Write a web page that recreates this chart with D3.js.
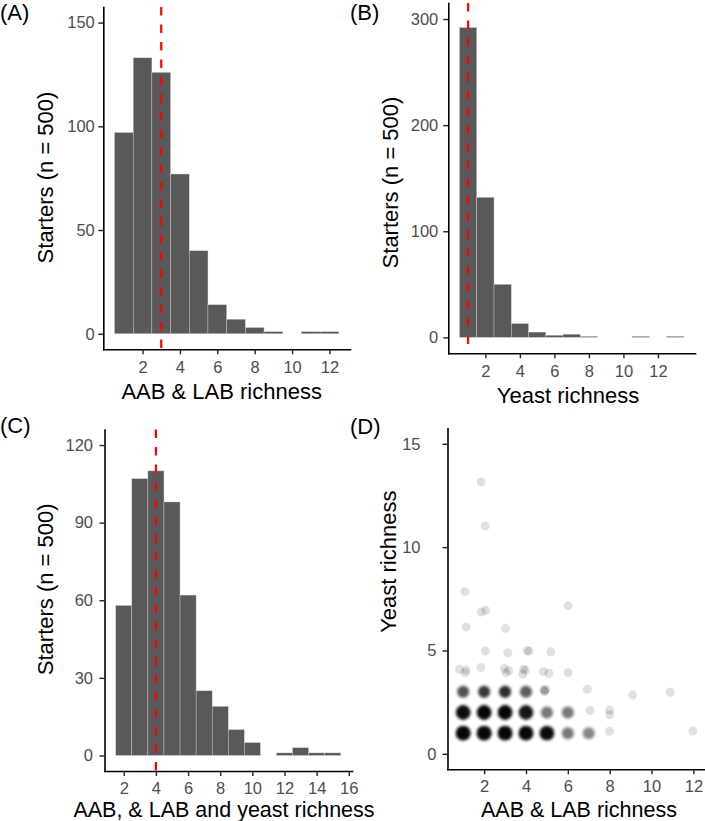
<!DOCTYPE html>
<html>
<head>
<meta charset="utf-8">
<script src="https://cdn.jsdelivr.net/npm/d3@7"></script>
<style>
  body { margin: 0; background: #fff; }
  svg text { font-family: "Liberation Sans", Arial, Helvetica, sans-serif; }
</style>
</head>
<body>
<div id="chart"></div>
<script>
// histogram counts (bin centres = richness values)
const aabBins = [1, 2, 3, 4, 5, 6, 7, 8, 9, 10, 11, 12];
const aabCounts = [97, 133, 126, 77, 40, 14, 7, 3, 1, 0, 1, 1];
const aabMedian = 3;

const yeastBins = [1, 2, 3, 4, 5, 6, 7, 8, 9, 10, 11, 12, 13];
const yeastCounts = [292, 132, 50, 13, 5, 2, 3, 1, 0, 0, 1, 0, 1];
const yeastMedian = 1;

const totalBins = [2, 3, 4, 5, 6, 7, 8, 9, 10, 11, 12, 13, 14, 15];
const totalCounts = [58, 107, 110, 98, 62, 25, 19, 10, 5, 0, 1, 3, 1, 1];
const totalMedian = 4;

// scatter: crowded cells (many starters on the same point)
const denseX = [1, 2, 3, 4, 5, 6, 7, 1, 2, 3, 4, 5, 6, 1, 2, 3, 4];
const denseY = [1, 1, 1, 1, 1, 1, 1, 2, 2, 2, 2, 2, 2, 3, 3, 3, 3];
const denseN = [58, 82, 68, 44, 27, 6, 5, 25, 33, 39, 20, 6, 6, 9, 12, 14, 8];

// scatter: isolated (jittered) starters
const sparseX = [7.99, 11.97, 7.06, 8.0, 8.0, 4.85, 4.9, 4.95, 4.88, 6.93, 9.1, 10.89,
  0.82, 1.14, 1.09, 1.84, 2.96, 3.18, 3.05, 3.88, 3.85, 3.98, 4.83, 5.09, 6.01,
  2.06, 3.13, 4.06, 4.14, 5.19,
  1.14, 3.02, 1.87, 2.07, 6.01, 1.08, 2.05, 1.86];
const sparseY = [1.09, 1.1, 2.1, 2.12, 1.89, 3.1, 3.05, 3.12, 3.0, 3.12, 2.84, 2.98,
  4.09, 4.05, 3.92, 4.18, 4.13, 4.03, 3.92, 4.09, 3.86, 4.03, 3.98, 3.9, 3.92,
  4.97, 4.89, 5.0, 4.96, 4.94,
  6.14, 6.07, 6.86, 6.94, 7.16, 7.85, 11.02, 13.15];

const width = 705;
const height = 821;

const svg = d3.select("#chart")
  .append("svg")
  .attr("width", width)
  .attr("height", height);

svg.append("defs").append("filter")
  .attr("id", "soft")
  .attr("x", "-20%").attr("y", "-20%").attr("width", "140%").attr("height", "140%")
  .append("feGaussianBlur")
  .attr("stdDeviation", 1.8);

// shared axis styling
function styleAxis(g) {
  g.attr("font-size", null).attr("font-family", null);
  g.select(".domain").attr("stroke", "#000").attr("stroke-width", 1.6).attr("stroke-linecap", "square");
  g.selectAll(".tick line").attr("stroke", "#222").attr("stroke-width", 1.4);
  g.selectAll(".tick text").attr("fill", "#4d4d4d").style("font-size", "16.5px");
}

function drawAxes(x, y, cfg) {
  svg.append("g")
    .attr("transform", `translate(0,${cfg.yRange[0]})`)
    .call(d3.axisBottom(x).tickValues(cfg.xTicks).tickSize(5).tickSizeOuter(0).tickPadding(cfg.xPad || 7))
    .call(styleAxis);

  const ya = svg.append("g")
    .attr("transform", `translate(${cfg.xRange[0]},0)`)
    .call(d3.axisLeft(y).tickValues(cfg.yTicks).tickSize(5).tickSizeOuter(0).tickPadding(cfg.yPad))
    .call(styleAxis);
  if (cfg.wideShift) {
    ya.selectAll(".tick text")
      .filter(d => String(d).length > 1)
      .attr("x", -5 - cfg.yPad - cfg.wideShift);
  }

  // panel tag
  svg.append("text")
    .attr("x", cfg.tag[0]).attr("y", cfg.tag[1])
    .style("font-size", "22px")
    .text(cfg.tagText);

  // x title
  svg.append("text")
    .attr("x", cfg.xTitle[0]).attr("y", cfg.xTitle[1])
    .attr("text-anchor", "middle")
    .style("font-size", cfg.xTitleSize || "22px")
    .text(cfg.xLabel);

  // y title
  svg.append("text")
    .attr("transform", `translate(${cfg.yTitle[0]},${cfg.yTitle[1]}) rotate(-90)`)
    .attr("text-anchor", "middle")
    .style("font-size", "22px")
    .text(cfg.yLabel);
}

function drawHist(bins, counts, median, cfg) {
  const x = d3.scaleLinear().domain(cfg.xDomain).range(cfg.xRange);
  const y = d3.scaleLinear().domain(cfg.yDomain).range(cfg.yRange);

  svg.append("g")
    .selectAll("rect")
    .data(bins.map((b, i) => ({ b, n: counts[i] })))
    .join("rect")
    .attr("x", d => x(d.b - 0.5))
    .attr("width", d => x(d.b + 0.5) - x(d.b - 0.5))
    .attr("y", d => y(d.n))
    .attr("height", d => y(0) - y(d.n))
    .attr("fill", "#595959")
    .attr("stroke", "#d4d4d4")
    .attr("stroke-width", 0.4);

  // median line
  svg.append("line")
    .attr("x1", x(median)).attr("x2", x(median))
    .attr("y1", cfg.yRange[1]).attr("y2", cfg.yRange[0])
    .attr("stroke", "#ff0000")
    .attr("stroke-width", 2.2)
    .attr("stroke-dasharray", "8.5,9");

  drawAxes(x, y, cfg);
}

// (A)
drawHist(aabBins, aabCounts, aabMedian, {
  xDomain: [-0.1, 13.1], xRange: [103.3, 350],
  yDomain: [-7.5, 157.5], yRange: [349.3, 7],
  xTicks: [2, 4, 6, 8, 10, 12], yTicks: [0, 50, 100, 150], yPad: 3.5,
  tag: [0, 19.5], tagText: "(A)",
  xTitle: [221.7, 399.3], xLabel: "AAB & LAB richness",
  yTitle: [52.5, 177.5], yLabel: "Starters (n = 500)"
});

// (B)
drawHist(yeastBins, yeastCounts, yeastMedian, {
  xDomain: [-0.15, 14.15], xRange: [448.3, 695],
  yDomain: [-15, 315], yRange: [353.3, 3.1],
  xTicks: [2, 4, 6, 8, 10, 12], yTicks: [0, 100, 200, 300], yPad: 5,
  tag: [350, 19.5], tagText: "(B)",
  xTitle: [568, 403.3], xLabel: "Yeast richness",
  yTitle: [397.5, 182.5], yLabel: "Starters (n = 500)"
});

// (C)
drawHist(totalBins, totalCounts, totalMedian, {
  xDomain: [0.8, 16.2], xRange: [104.5, 352],
  yDomain: [-6, 126], yRange: [771, 429.5],
  xTicks: [2, 4, 6, 8, 10, 12, 14, 16], yTicks: [0, 30, 60, 90, 120], yPad: 6.5, xPad: 6,
  tag: [0, 433.3], tagText: "(C)",
  xTitle: [224, 817], xTitleSize: "21.5px", xLabel: "AAB, & LAB and yeast richness",
  yTitle: [52.5, 589.3], yLabel: "Starters (n = 500)"
});

// (D) scatter
{
  const cfg = {
    xDomain: [0.25, 12.77], xRange: [447.5, 709.5],
    yDomain: [-0.75, 15.75], yRange: [769.3, 428.3],
    xTicks: [2, 4, 6, 8, 10, 12], yTicks: [0, 5, 10, 15], yPad: 6, wideShift: 16, xPad: 6,
    tag: [350, 434], tagText: "(D)",
    xTitle: [579, 817], xTitleSize: "21.5px", xLabel: "AAB & LAB richness",
    yTitle: [396, 561.7], yLabel: "Yeast richness"
  };
  const x = d3.scaleLinear().domain(cfg.xDomain).range(cfg.xRange);
  const y = d3.scaleLinear().domain(cfg.yDomain).range(cfg.yRange);

  // crowded cells: one translucent dot per starter, stacked
  const stacked = [];
  denseX.forEach((cx, i) => {
    d3.range(denseN[i]).forEach(() => stacked.push({ x: cx, y: denseY[i], n: denseN[i] }));
  });
  svg.append("g")
    .attr("filter", "url(#soft)")
    .selectAll("circle")
    .data(stacked)
    .join("circle")
    .attr("cx", d => x(d.x))
    .attr("cy", d => y(d.y))
    .attr("r", d => d.n >= 20 ? 7.2 : 6)
    .attr("fill", "#000")
    .attr("fill-opacity", 0.12);

  svg.append("g")
    .selectAll("circle")
    .data(sparseX.map((v, i) => ({ x: v, y: sparseY[i] })))
    .join("circle")
    .attr("cx", d => x(d.x))
    .attr("cy", d => y(d.y))
    .attr("r", 4.5)
    .attr("fill", "#000")
    .attr("fill-opacity", 0.12);

  drawAxes(x, y, cfg);
}
</script>
</body>
</html>
